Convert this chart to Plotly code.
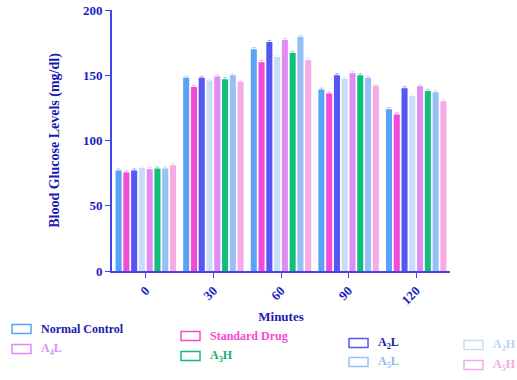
import plotly.graph_objects as go

# Time points (minutes) and group means for each treatment
minutes = ["0", "30", "60", "90", "120"]

normal_control = [77, 148, 170, 139, 124]
standard_drug = [75.5, 141, 160, 136, 120]
a2l = [77, 148, 175.5, 150, 140]
a2h = [79, 146, 164, 147.5, 134]
a4l = [78, 149, 177, 151.5, 141.5]
a3h = [78.5, 147, 167, 150, 138]
a5l = [78.5, 150, 179.5, 148, 137]
a5h = [81, 145, 161.5, 142, 130]

sem = [1.2, 1.2, 1.2, 1.2, 1.2]

series = [
    ("Normal Control", normal_control, "#5AA2F6"),
    ("Standard Drug", standard_drug, "#F24BD6"),
    ("A<sub>2</sub>L", a2l, "#5656F4"),
    ("A<sub>2</sub>H", a2h, "#C8DDF6"),
    ("A<sub>4</sub>L", a4l, "#E08CF6"),
    ("A<sub>3</sub>H", a3h, "#10BE7C"),
    ("A<sub>5</sub>L", a5l, "#96C0F6"),
    ("A<sub>5</sub>H", a5h, "#F6AAE6"),
]

label_colors = {
    "Normal Control": "#1A1AB0",
    "Standard Drug": "#F24BD6",
    "A<sub>2</sub>L": "#1A1AB0",
    "A<sub>2</sub>H": "#B8D2F4",
    "A<sub>4</sub>L": "#E08CF6",
    "A<sub>3</sub>H": "#10B070",
    "A<sub>5</sub>L": "#8CB8F4",
    "A<sub>5</sub>H": "#F6AAE6",
}

FONT = "Liberation Serif, Times New Roman, serif"
AXIS = "#4646E6"
TICK = "#1C1CC0"

W, H = 517, 380
ML, MR, MT, MB = 112, 67, 10, 109
PW, PH = W - ML - MR, H - MT - MB


def faded(hex_color, alpha=0.45):
    h = hex_color.lstrip("#")
    r, g, b = (int(h[i:i + 2], 16) for i in (0, 2, 4))
    return f"rgba({r},{g},{b},{alpha})"


fig = go.Figure()
for name, vals, col in series:
    fig.add_trace(go.Bar(
        x=minutes, y=vals, name=name, marker=dict(color=col, line=dict(width=0)),
        error_y=dict(type="data", array=sem, color=faded(col), thickness=1, width=2),
        showlegend=False,
    ))

fig.update_layout(
    width=W, height=H,
    margin=dict(l=ML, r=MR, t=MT, b=MB, autoexpand=False),
    paper_bgcolor="white", plot_bgcolor="white",
    barmode="group", bargap=0.08, bargroupgap=0.22,
    font=dict(family=FONT, color=TICK),
)
fig.update_xaxes(
    range=[-0.5, 4.5], showline=True, linecolor=AXIS, linewidth=2,
    ticks="outside", ticklen=5, tickcolor=AXIS, tickangle=-45,
    tickfont=dict(family=FONT, size=13, color=TICK, weight="bold"),
    title=dict(text="<b>Minutes</b>", font=dict(family=FONT, size=13, color="#1A1AB0"), standoff=5),
    showgrid=False, automargin=False,
)
fig.update_yaxes(
    range=[0, 200], tickvals=[0, 50, 100, 150, 200], showline=True, linecolor=AXIS, linewidth=2,
    ticks="outside", ticklen=5, tickcolor=AXIS,
    tickfont=dict(family=FONT, size=13, color=TICK, weight="bold"),
    title=dict(text="<b>Blood Glucose Levels (mg/dl)</b>", font=dict(family=FONT, size=14, color="#1A1AB0"), standoff=20),
    showgrid=False, zeroline=False, automargin=False,
)

# Custom legend: outlined swatches with coloured labels, placed in pixel positions
legend_slots = {
    "Normal Control": (12, 329),
    "A<sub>4</sub>L": (12, 349),
    "Standard Drug": (181, 336),
    "A<sub>3</sub>H": (181, 356),
    "A<sub>2</sub>L": (349, 343),
    "A<sub>5</sub>L": (349, 362),
    "A<sub>2</sub>H": (464, 345),
    "A<sub>5</sub>H": (464, 365),
}


def px_x(px):
    return (px - ML) / PW


def px_y(py):
    return (H - MB - py) / PH


for name, vals, col in series:
    px, py = legend_slots[name]
    fig.add_shape(type="rect", xref="paper", yref="paper",
                  x0=px_x(px), x1=px_x(px + 19), y0=px_y(py + 4.5), y1=px_y(py - 4.5),
                  line=dict(color=col, width=1.5), fillcolor="white")
    fig.add_annotation(xref="paper", yref="paper", x=px_x(px + 27), y=px_y(py),
                       xanchor="left", yanchor="middle", showarrow=False,
                       text="<b>" + name + "</b>",
                       font=dict(family=FONT, size=12, color=label_colors[name]))

fig.write_html("out.html")
